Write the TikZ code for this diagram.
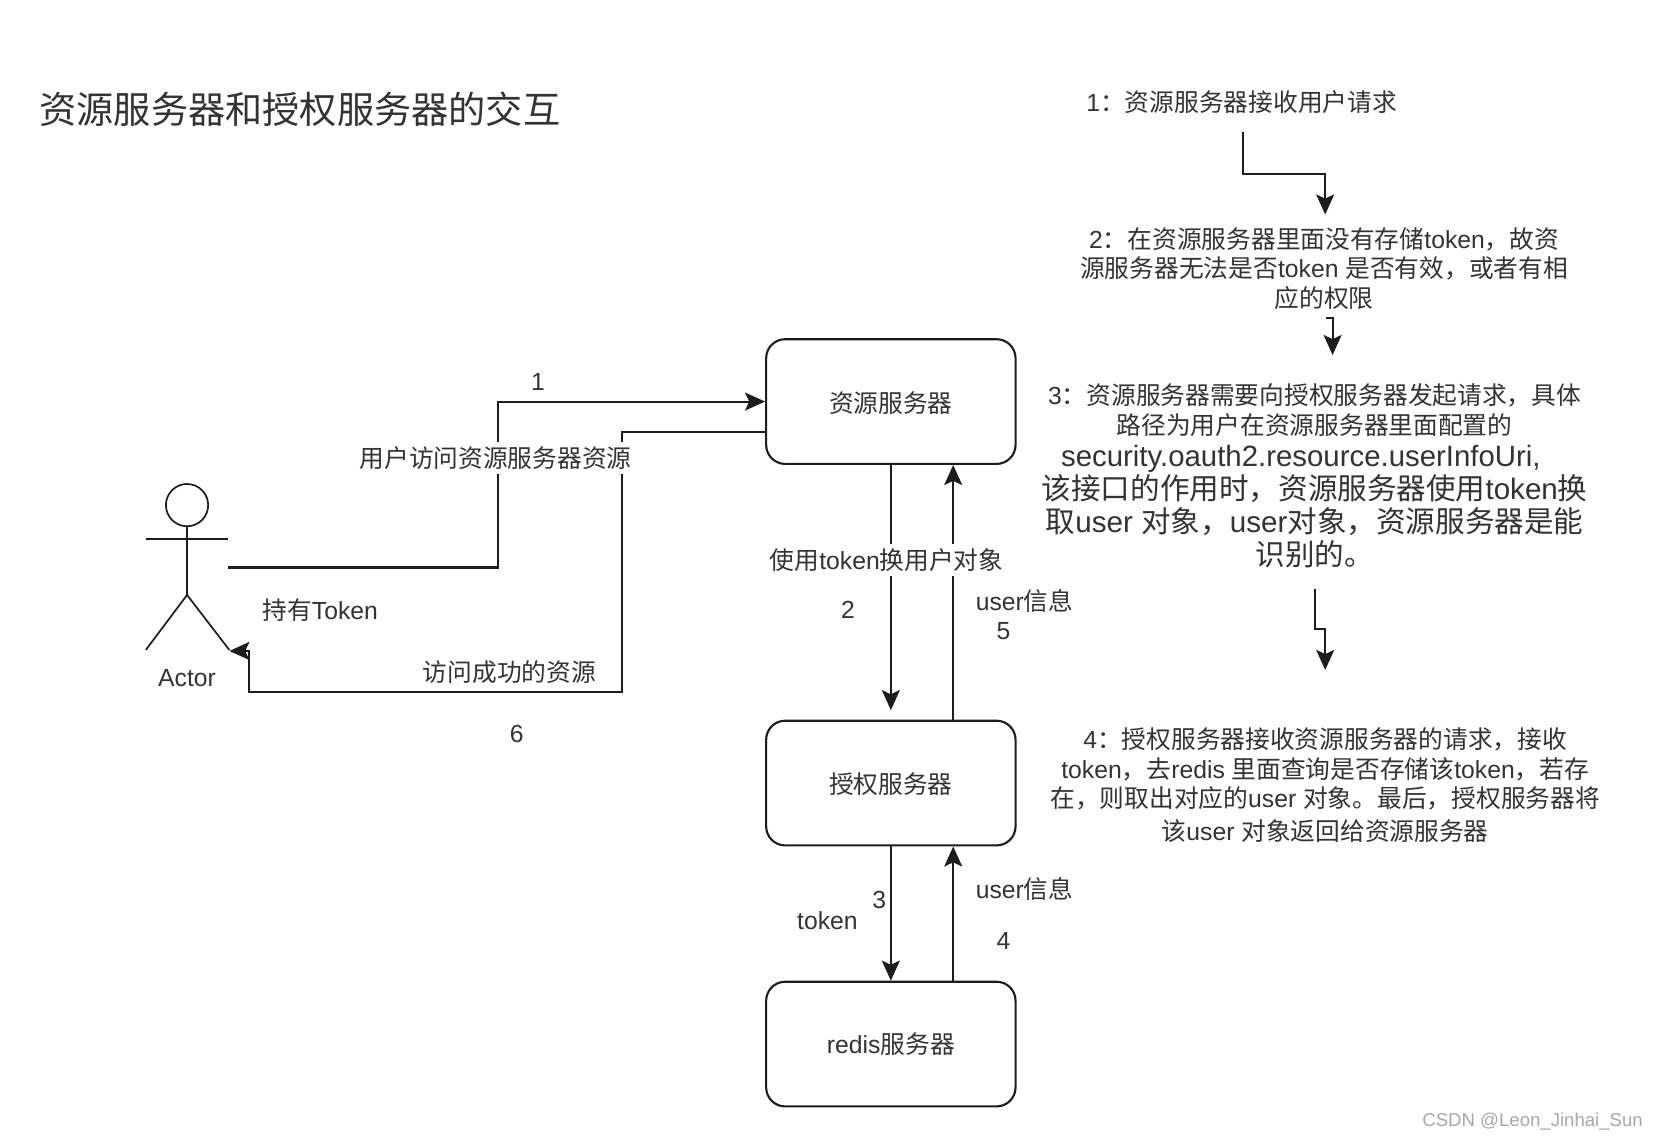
\documentclass[tikz,border=0pt]{standalone}
\usepackage{fontspec}
\usetikzlibrary{arrows.meta}
\setmainfont{Liberation Sans}
\newfontfamily\cjkfam{Noto Sans CJK SC}
\newfontfamily\latfam{Liberation Sans}
\XeTeXinterchartokenstate=1
\newXeTeXintercharclass\cjkclass
\makeatletter
\count@="3000
\loop\XeTeXcharclass\count@=\cjkclass\ifnum\count@<"303F\advance\count@ by 1\repeat
\count@="4E00
\loop\XeTeXcharclass\count@=\cjkclass\ifnum\count@<"9FFF\advance\count@ by 1\repeat
\count@="FF00
\loop\XeTeXcharclass\count@=\cjkclass\ifnum\count@<"FFEF\advance\count@ by 1\repeat
\makeatother
\XeTeXinterchartoks 0 \cjkclass={\cjkfam}
\XeTeXinterchartoks \cjkclass 0={\latfam}
\XeTeXinterchartoks 4095 \cjkclass={\cjkfam}
\definecolor{ink}{HTML}{1C1C1C}
\definecolor{txt}{HTML}{333333}
\definecolor{wmark}{HTML}{A8A8A8}
\newcommand{\szA}{\fontsize{11.7}{14}\selectfont}
\newcommand{\szB}{\fontsize{14}{15.5}\selectfont\latfam}
\AtBeginDocument{\lineskiplimit=-30pt\relax}
\tikzset{
  x=0.5pt,y=-0.5pt,
  line/.style={draw=ink,line width=1pt,line join=miter},
  arr/.style={line,-{Stealth[length=9.5pt,width=8.5pt,inset=2pt]}},
  limb/.style={draw=ink,line width=0.8pt},
  box/.style={draw=ink,line width=1pt,rounded corners=9pt,minimum width=118pt,minimum height=59pt,inner sep=0pt,text=txt,font=\szA},
  cjkbox/.style={box,text height=9.9pt,text depth=0pt},
  lab/.style={text=txt,font=\szA,inner sep=0pt},
  masklab/.style={lab,fill=white,inner xsep=1pt,inner ysep=2pt},
  block/.style={text=txt,align=center,inner sep=0pt,font=\szA},
}
\begin{document}
\begin{tikzpicture}
\fill[white] (0,0) rectangle (1568,1078.7);
\useasboundingbox (0,0) rectangle (1568,1078.7);

\node[text=txt,anchor=west,inner sep=0pt,font=\fontsize{17.6}{21}\selectfont] (title) at (37,103) {资源服务器和授权服务器的交互};

% right-hand notes
\node[block] (s1) at (1175,97) {\latfam 1：资源服务器接收用户请求};
\node[block] (s2) at (1253,254) {\latfam 2：在资源服务器里面没有存储token，故资\\源服务器无法是否token 是否有效，或者有相\\应的权限};
\node[block] (s3) at (1244,450) {\latfam 3：资源服务器需要向授权服务器发起请求，具体\\路径为用户在资源服务器里面配置的\\[1.5pt]\fontsize{13.9}{15.5}\selectfont\latfam security.oauth2.resource.userInfoUri,\hspace*{13pt}\mbox{}\\[1.5pt]\szB 该接口的作用时，资源服务器使用token换\\[1.5pt]\szB 取user 对象，user对象，资源服务器是能\\[1.5pt]\szB 识别的。};
\node[block] (s4) at (1254,743) {\latfam 4：授权服务器接收资源服务器的请求，接收\\\latfam token，去redis 里面查询是否存储该token，若存\\在，则取出对应的user 对象。最后，授权服务器将\\[1.5pt]该user 对象返回给资源服务器};

\coordinate (n1a) at (1176,125);
\coordinate (n1b) at (1254,203);
\draw[arr] (n1a) -- (1176,165) -- (1254,165) -- (n1b);
\coordinate (n2a) at (1255,301);
\coordinate (n2b) at (1261,336);
\draw[arr] (n2a) -- (1261,301) -- (n2b);
\coordinate (n3a) at (1244,557);
\coordinate (n3b) at (1254,634);
\draw[arr] (n3a) -- (1244,595) -- (1254,595) -- (n3b);

% servers
\node[cjkbox] (res) at (843,380) {资源服务器};
\node[cjkbox] (auth) at (843,741) {授权服务器};
\node[box] (redis) at (843,988) {\latfam redis服务器};

% actor
\node[draw=ink,line width=0.8pt,circle,minimum size=20pt,inner sep=0pt] (head) at (177,478) {};
\coordinate (hip) at (177,563);
\coordinate (armL) at (138,510);
\coordinate (armR) at (216,510);
\coordinate (footL) at (138,615);
\coordinate (footR) at (217,615);
\draw[limb] (head.south) -- (hip);
\draw[limb] (armL) -- (armR);
\draw[limb] (footL) -- (hip) -- (footR);
\node[lab] (actor) at (177,641.5) {Actor};

% connectors
\coordinate (out) at (216,537);
\coordinate (back) at (217,616);
\draw[arr] (out) -- (471,537) -- (471,380) -- (res.west);
\draw[arr] ([yshift=-14.5pt]res.west) -- (589,409) -- (589,655) -- (236,655) -- (236,616) -- (back);
\draw[arr,shorten >=4.5pt] (res.south) -- (auth.north);
\draw[arr] ([xshift=29.5pt]auth.north) -- ([xshift=29.5pt]res.south);
\draw[arr] (auth.south) -- (redis.north);
\draw[arr] ([xshift=29.5pt]redis.north) -- ([xshift=29.5pt]auth.south);

% labels
\node[masklab] (l1) at (469,433.5) {用户访问资源服务器资源};
\node[masklab] (l2) at (839,530) {使用token换用户对象};
\node[lab] (n1) at (509,361.5) {1};
\node[lab] (hold) at (303,577) {持有Token};
\node[lab] (okres) at (482,636) {访问成功的资源};
\node[lab] (n6) at (489,694.5) {6};
\node[lab] (n2) at (802.5,577.5) {2};
\node[lab] (u5) at (969.5,569) {user信息};
\node[lab] (n5) at (949.5,597) {5};
\node[lab] (tok) at (783,871) {token};
\node[lab] (n3) at (832,851.5) {3};
\node[lab] (u4) at (969.5,841) {user信息};
\node[lab] (n4) at (949.5,890) {4};

\node[anchor=east,text=wmark,inner sep=0pt,font=\fontsize{8.8}{11}\selectfont] (wm) at (1555,1061.5) {CSDN @Leon\_Jinhai\_Sun};
\end{tikzpicture}
\end{document}
